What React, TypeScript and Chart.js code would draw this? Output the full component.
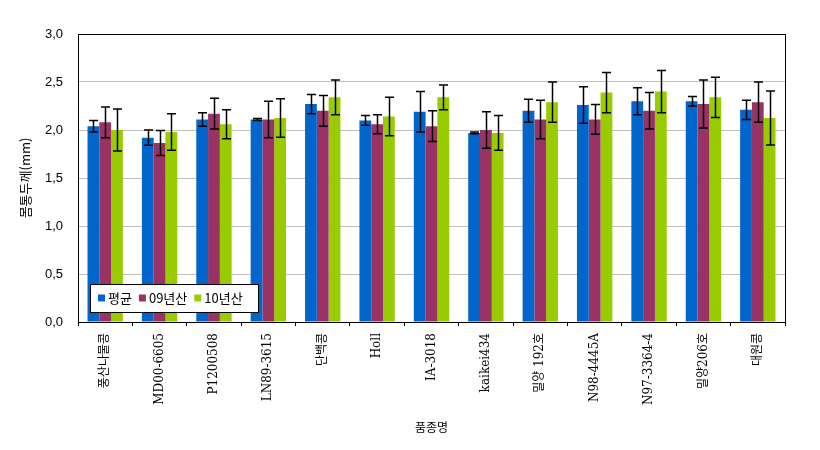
import React, { useEffect, useRef } from "react";
import { Chart, registerables } from "chart.js";

Chart.register(...registerables);

const categories = [
  "풍산나물콩", "MD00-6605", "P1200508", "LN89-3615", "단백콩", "Holl", "IA-3018",
  "kaikei434", "밀양 192호", "N98-4445A", "N97-3364-4", "밀양206호", "대원콩",
];
const seriesNames = ["평균", "09년산", "10년산"];
const avgValues = [2.04, 1.92, 2.11, 2.11, 2.27, 2.10, 2.19, 1.97, 2.20, 2.26, 2.30, 2.30, 2.21];
const avgErrors = [0.06, 0.08, 0.07, 0.01, 0.10, 0.05, 0.21, 0.01, 0.12, 0.19, 0.14, 0.05, 0.10];
const y09Values = [2.08, 1.865, 2.17, 2.11, 2.20, 2.06, 2.04, 2.00, 2.11, 2.11, 2.20, 2.27, 2.29];
const y09Errors = [0.16, 0.13, 0.16, 0.19, 0.16, 0.10, 0.16, 0.19, 0.20, 0.155, 0.19, 0.25, 0.21];
const y10Values = [2.00, 1.98, 2.06, 2.125, 2.34, 2.14, 2.34, 1.97, 2.29, 2.39, 2.40, 2.34, 2.125];
const y10Errors = [0.22, 0.19, 0.15, 0.20, 0.18, 0.20, 0.13, 0.18, 0.21, 0.21, 0.22, 0.21, 0.28];
const yTicks = [0, 0.5, 1.0, 1.5, 2.0, 2.5, 3.0];
const yTitle = "몸통두께(mm)";
const xTitle = "품종명";

const colors = ["#0066CC", "#993366", "#99CC00"];
const errorSets = [avgErrors, y09Errors, y10Errors];

const errorBarPlugin = {
  id: "errorBars",
  afterDatasetsDraw(chart: any) {
    const ctx = chart.ctx;
    const yScale = chart.scales.y;
    ctx.save();
    ctx.strokeStyle = "#000";
    ctx.lineWidth = 1.5;
    chart.data.datasets.forEach((ds: any, di: number) => {
      const meta = chart.getDatasetMeta(di);
      meta.data.forEach((bar: any, i: number) => {
        const v = ds.data[i];
        const e = errorSets[di][i];
        const yTop = yScale.getPixelForValue(v + e);
        const yBot = yScale.getPixelForValue(v - e);
        const x = Math.round(bar.x) + 0.5;
        const cap = 4.5;
        ctx.beginPath();
        ctx.moveTo(x, yTop);
        ctx.lineTo(x, yBot);
        ctx.moveTo(x - cap, yTop);
        ctx.lineTo(x + cap, yTop);
        ctx.moveTo(x - cap, yBot);
        ctx.lineTo(x + cap, yBot);
        ctx.stroke();
      });
    });
    // plot border
    const a = chart.chartArea;
    ctx.lineWidth = 1;
    ctx.strokeStyle = "#000";
    ctx.strokeRect(Math.round(a.left) + 0.5, Math.round(a.top) + 0.5, Math.round(a.right - a.left), Math.round(a.bottom - a.top));

    // legend box
    const bx = 90, by = 284, bw = 168, bh = 28;
    ctx.fillStyle = "#fff";
    ctx.fillRect(bx, by, bw, bh);
    ctx.strokeRect(bx + 0.5, by + 0.5, bw, bh);
    ctx.font = "13px 'Noto Sans CJK KR', 'Liberation Sans', sans-serif";
    ctx.textBaseline = "middle";
    ctx.textAlign = "left";
    const cy = by + bh / 2;
    let x = bx + 8;
    chart.data.datasets.forEach((ds: any) => {
      ctx.fillStyle = ds.backgroundColor;
      ctx.fillRect(x, cy - 3.5, 7, 7);
      x += 10;
      ctx.fillStyle = "#000";
      ctx.fillText(ds.label, x, cy + 0.5);
      x += ctx.measureText(ds.label).width + 7;
    });
    ctx.restore();
  },
};

export default function App() {
  const ref = useRef<HTMLCanvasElement>(null);
  useEffect(() => {
    if (!ref.current) return;
    const chart = new Chart(ref.current, {
      type: "bar",
      data: {
        labels: categories,
        datasets: [avgValues, y09Values, y10Values].map((d, i) => ({
          label: seriesNames[i],
          data: d,
          backgroundColor: colors[i],
          borderWidth: 0,
          categoryPercentage: 0.65,
          barPercentage: 1.0,
        })),
      },
      options: {
        responsive: false,
        animation: false,
        devicePixelRatio: 1,
        layout: { padding: { top: 34, right: 35, left: 0, bottom: 0 } },
        plugins: { legend: { display: false }, tooltip: { enabled: false } },
        scales: {
          x: {
            afterFit: (s: any) => { s.height = 128; },
            grid: { display: true, drawOnChartArea: false, drawTicks: true, tickLength: 4, color: "#000", offset: true },
            border: { color: "#000", width: 1 },
            ticks: {
              autoSkip: false,
              minRotation: 90,
              maxRotation: 90,
              padding: 7,
              color: "#000",
              font: { family: "'DejaVu Serif', 'Noto Sans CJK KR', serif", size: 12 },
            },
            title: {
              display: true,
              text: xTitle,
              color: "#000",
              padding: { top: 0, bottom: 15 },
              font: { family: "'Noto Sans CJK KR', sans-serif", size: 12 },
            },
          },
          y: {
            min: 0,
            max: 3,
            afterFit: (s: any) => { s.width = 78; },
            afterBuildTicks: (s: any) => { s.ticks = yTicks.map((v) => ({ value: v })); },
            grid: { color: "#c0c0c0", lineWidth: 1, drawTicks: false },
            border: { color: "#000", width: 1 },
            ticks: {
              padding: 15,
              color: "#000",
              font: { family: "'Liberation Sans', sans-serif", size: 13 },
              callback: (v: any) => Number(v).toFixed(1).replace(".", ","),
            },
            title: {
              display: true,
              text: yTitle,
              color: "#000",
              padding: { top: 17, bottom: 0 },
              font: { family: "'Noto Sans CJK KR', sans-serif", size: 13 },
            },
          },
        },
      },
      plugins: [errorBarPlugin],
    });
    return () => chart.destroy();
  }, []);
  return (
    <div style={{ position: "absolute", left: 0, top: 0, width: 820, height: 450, background: "#fff" }}>
      <canvas ref={ref} width={820} height={450} />
    </div>
  );
}
